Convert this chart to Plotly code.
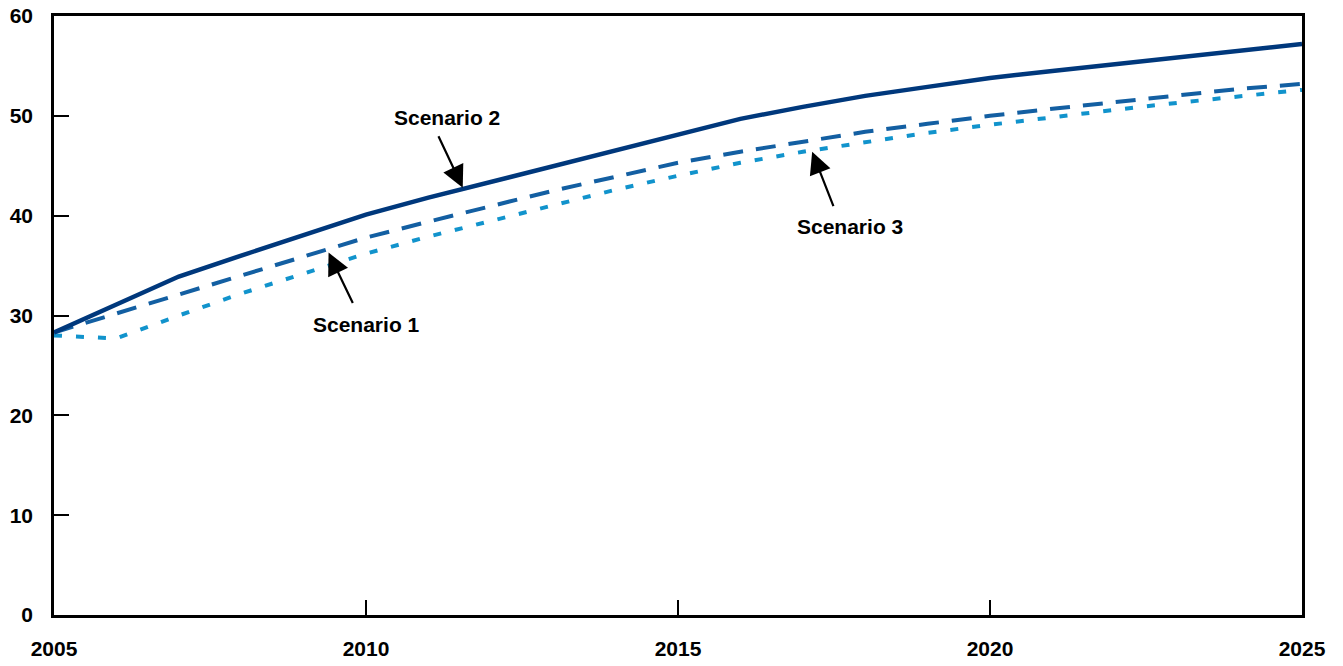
import plotly.graph_objects as go

years = list(range(2005, 2026))
scenario_2 = [28.3, 31.1, 33.9, 36.0, 38.1, 40.1, 41.8, 43.4, 45.0, 46.6, 48.2,
              49.7, 50.9, 52.0, 52.9, 53.8, 54.5, 55.2, 55.9, 56.5, 57.2]
scenario_1 = [28.3, 30.2, 32.0, 34.0, 35.9, 37.8, 39.4, 41.0, 42.5, 43.9, 45.3,
              46.4, 47.4, 48.4, 49.2, 50.0, 50.7, 51.4, 52.1, 52.7, 53.2]
scenario_3 = [28.0, 27.7, 30.0, 32.2, 34.2, 36.2, 37.9, 39.5, 41.1, 42.6, 44.0,
              45.3, 46.4, 47.4, 48.3, 49.1, 49.9, 50.6, 51.3, 52.0, 52.6]
x_ticks = [2005, 2010, 2015, 2020, 2025]
y_ticks = [0, 10, 20, 30, 40, 50, 60]

FONT = "Liberation Sans, Arial, sans-serif"

fig = go.Figure()
fig.add_trace(go.Scatter(x=years, y=scenario_3, mode="lines", name="Scenario 3",
                         line=dict(color="#1193cc", width=4, dash="8px,14px")))
fig.add_trace(go.Scatter(x=years, y=scenario_1, mode="lines", name="Scenario 1",
                         line=dict(color="#135fa2", width=4, dash="20px,13px")))
fig.add_trace(go.Scatter(x=years, y=scenario_2, mode="lines", name="Scenario 2",
                         line=dict(color="#00387c", width=4.5)))

ann = [
    ("Scenario 2", 2011.55, 42.8, 2011.15, 48.1),
    ("Scenario 1", 2009.4, 36.3, 2009.8, 31.1),
    ("Scenario 3", 2017.15, 46.4, 2017.5, 40.8),
]
for text, xa, ya, xt, yt in ann:
    fig.add_annotation(x=xa, y=ya, ax=xt, ay=yt, axref="x", ayref="y",
                       text="", showarrow=True, arrowhead=2, arrowsize=2.0,
                       arrowwidth=2.2, arrowcolor="black")
label_pos = [("Scenario 2", 2011.3, 49.8), ("Scenario 1", 2010.0, 29.1),
             ("Scenario 3", 2017.75, 38.9)]
for text, xt, yt in label_pos:
    fig.add_annotation(x=xt, y=yt, text="<b>" + text + "</b>", showarrow=False,
                       font=dict(family=FONT, size=21, color="black"))

fig.update_layout(
    width=1343, height=666,
    margin=dict(l=46, r=49, t=8, b=59),
    paper_bgcolor="white", plot_bgcolor="white",
    showlegend=False,
    font=dict(family=FONT, size=21, color="black"),
)
fig.update_xaxes(range=[2005, 2025], tickvals=x_ticks,
                 ticktext=["<b>%d</b>" % v for v in x_ticks],
                 showgrid=False, zeroline=False, showline=True, linecolor="black",
                 linewidth=2.5, mirror=True, ticks="inside", ticklen=15,
                 tickwidth=1.5, tickcolor="black", ticklabelstandoff=13,
                 automargin=False, ticklabeloverflow="allow")
fig.update_yaxes(range=[0, 60], tickvals=y_ticks,
                 ticktext=["<b>%d</b>" % v for v in y_ticks],
                 showgrid=False, zeroline=False, showline=True, linecolor="black",
                 linewidth=2.5, mirror=True, ticks="inside", ticklen=15,
                 tickwidth=1.5, tickcolor="black", ticklabelstandoff=14,
                 automargin=False, ticklabeloverflow="allow")

fig.write_html("out.html")
